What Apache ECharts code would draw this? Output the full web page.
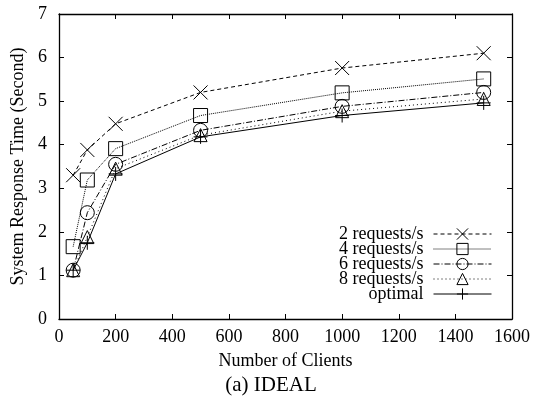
<!DOCTYPE html>
<html><head><meta charset="utf-8">
<script src="https://cdn.jsdelivr.net/npm/echarts@6/dist/echarts.min.js"></script>
<style>html,body{margin:0;padding:0;background:#fff}#c{width:533px;height:407px}</style>
</head><body><div id="c"></div>
<script>
var clients = [50, 100, 200, 500, 1000, 1500];
var req2 = [3.30, 3.88, 4.48, 5.20, 5.76, 6.10];
var req4 = [1.66, 3.19, 3.91, 4.67, 5.19, 5.51];
var req6 = [1.12, 2.44, 3.55, 4.33, 4.88, 5.20];
var req8 = [1.12, 1.88, 3.45, 4.22, 4.77, 5.05];
var optimal = [1.12, 1.75, 3.33, 4.18, 4.67, 4.96];
var seriesNames = ['2 requests/s', '4 requests/s', '6 requests/s', '8 requests/s', 'optimal'];
var xTicks = [0, 200, 400, 600, 800, 1000, 1200, 1400, 1600];
var yTicks = [0, 1, 2, 3, 4, 5, 6, 7];

function pairs(ys){ return clients.map(function(x,i){ return [x, ys[i]]; }); }
var FONT = 'Liberation Serif';
var sym = {
  cross: 'path://M0,0L10,10M10,0L0,10',
  plus: 'path://M5,0L5,10M0,5L10,5'
};
function mk(name, data, symbol, size, dash){
  return {
    name: name, type: 'line', data: pairs(data),
    symbol: symbol, symbolSize: size, showSymbol: true,
    lineStyle: {color: '#000', width: 1, type: dash},
    itemStyle: {color: 'rgba(0,0,0,0)', borderColor: '#000', borderWidth: 1},
    emphasis: {disabled: true},
    animation: false, z: 3
  };
}
var chart = echarts.init(document.getElementById('c'), null, {renderer: 'canvas'});
function axisCommon(){
  return {
    axisLine: {show: true, onZero: false, lineStyle: {color: '#000', width: 1.3}},
    axisTick: {show: true, inside: true, length: 5, lineStyle: {color: '#000', width: 1}},
    splitLine: {show: false}
  };
}
chart.setOption({
  backgroundColor: '#fff',
  animation: false,
  grid: {left: 59, right: 18, top: 14, bottom: 88},
  xAxis: [
    Object.assign({type: 'value', min: xTicks[0], max: xTicks[xTicks.length-1], interval: 200, position: 'bottom',
      name: 'Number of Clients', nameLocation: 'middle', nameGap: 33,
      nameTextStyle: {fontFamily: FONT, fontSize: 18, color: '#000'},
      axisLabel: {fontFamily: FONT, fontSize: 18, color: '#000', margin: 9,
        formatter: function(v){ return String(v); }}}, axisCommon()),
    Object.assign({type: 'value', min: xTicks[0], max: xTicks[xTicks.length-1], interval: 200, position: 'top',
      axisLabel: {show: false}}, axisCommon())
  ],
  yAxis: [
    Object.assign({type: 'value', min: yTicks[0], max: yTicks[yTicks.length-1], interval: 1, position: 'left',
      name: 'System Response Time (Second)', nameLocation: 'middle', nameGap: 32,
      nameTextStyle: {fontFamily: FONT, fontSize: 18, color: '#000'},
      axisLabel: {fontFamily: FONT, fontSize: 18, color: '#000', margin: 12}}, axisCommon()),
    Object.assign({type: 'value', min: yTicks[0], max: yTicks[yTicks.length-1], interval: 1, position: 'right',
      axisLabel: {show: false}}, axisCommon())
  ],
  legend: {
    orient: 'vertical', right: 36, top: 220, align: 'right',
    itemWidth: 58, itemHeight: 14, itemGap: -3,
    lineStyle: {width: 1},
    itemStyle: {color: 'rgba(0,0,0,0)', borderColor: '#000', borderWidth: 1},
    textStyle: {fontFamily: FONT, fontSize: 18, color: '#000', padding: [0, 5, 0, 0]},
    data: seriesNames
  },
  graphic: [{
    type: 'text', x: 271, y: 375,
    style: {text: '(a) IDEAL', font: '21px "Liberation Serif"', fill: '#000', align: 'center'}
  }],
  series: [
    mk(seriesNames[0], req2, sym.cross, 14, [4, 3]),
    mk(seriesNames[1], req4, 'rect', 14, [1, 1]),
    mk(seriesNames[2], req6, 'circle', 14, [6, 2, 1, 2]),
    mk(seriesNames[3], req8, 'triangle', 13, [1, 3]),
    mk(seriesNames[4], optimal, sym.plus, 14, 'solid')
  ]
});
</script></body></html>
